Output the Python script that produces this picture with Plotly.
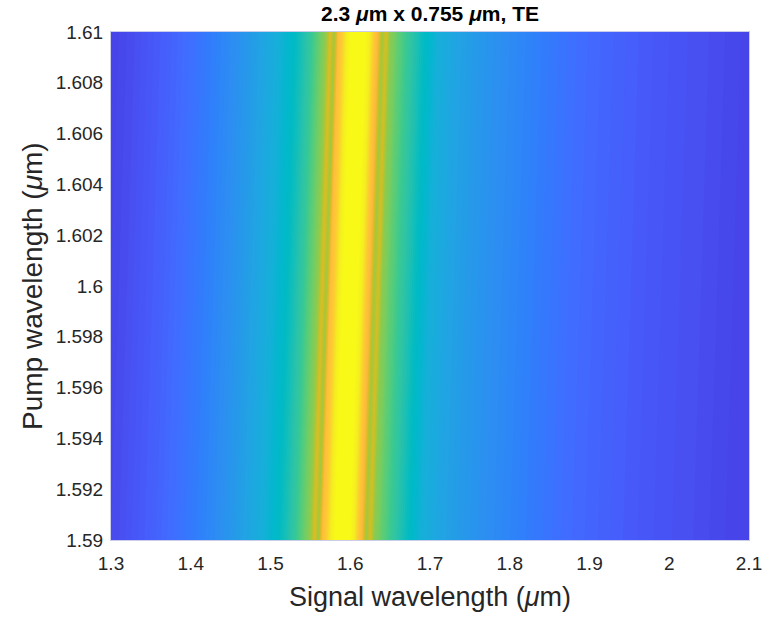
import plotly.graph_objects as go

# Normalised parametric gain versus signal detuning from the pump (um)
detuning_um = [
    -0.32, -0.30, -0.28, -0.26, -0.24, -0.22, -0.20, -0.18, -0.16, -0.14,
    -0.12, -0.10, -0.08, -0.07, -0.06, -0.055, -0.05, -0.045, -0.04, -0.035,
    -0.03, -0.025, -0.02, -0.015, -0.01, -0.005, 0.0, 0.005, 0.01, 0.015,
    0.02, 0.025, 0.03, 0.035, 0.04, 0.045, 0.05, 0.055, 0.06, 0.07,
    0.08, 0.10, 0.12, 0.14, 0.16, 0.18, 0.20, 0.24, 0.28, 0.32,
    0.36, 0.40, 0.44, 0.48, 0.52,
]
gain_norm = [
    0.10, 0.11, 0.13, 0.155, 0.18, 0.21, 0.235, 0.265, 0.30, 0.335,
    0.38, 0.42, 0.475, 0.51, 0.56, 0.60, 0.63, 0.66, 0.69, 0.78,
    0.70, 0.84, 0.88, 0.96, 0.99, 1.00, 1.00, 1.00, 0.99, 0.96,
    0.87, 0.82, 0.70, 0.77, 0.68, 0.66, 0.63, 0.61, 0.58, 0.53,
    0.49, 0.42, 0.385, 0.355, 0.33, 0.31, 0.29, 0.25, 0.215, 0.19,
    0.165, 0.145, 0.13, 0.11, 0.10,
]
pump_um = [1.59, 1.61]

x_tick_vals = [1.3, 1.4, 1.5, 1.6, 1.7, 1.8, 1.9, 2.0, 2.1]
x_tick_text = ["1.3", "1.4", "1.5", "1.6", "1.7", "1.8", "1.9", "2", "2.1"]
y_tick_vals = [1.59, 1.592, 1.594, 1.596, 1.598, 1.6, 1.602, 1.604, 1.606, 1.608, 1.61]
y_tick_text = ["1.59", "1.592", "1.594", "1.596", "1.598", "1.6",
               "1.602", "1.604", "1.606", "1.608", "1.61"]

# MATLAB parula(64)
PARULA = [
    (0.2422, 0.1504, 0.6603), (0.2504, 0.1650, 0.7076), (0.2578, 0.1818, 0.7511),
    (0.2647, 0.1978, 0.7952), (0.2706, 0.2147, 0.8364), (0.2751, 0.2342, 0.8710),
    (0.2783, 0.2559, 0.8991), (0.2803, 0.2782, 0.9221), (0.2813, 0.3006, 0.9414),
    (0.2810, 0.3228, 0.9579), (0.2795, 0.3447, 0.9717), (0.2760, 0.3667, 0.9829),
    (0.2699, 0.3892, 0.9906), (0.2602, 0.4123, 0.9952), (0.2440, 0.4358, 0.9988),
    (0.2206, 0.4603, 0.9973), (0.1963, 0.4847, 0.9892), (0.1834, 0.5074, 0.9798),
    (0.1786, 0.5289, 0.9682), (0.1764, 0.5499, 0.9520), (0.1687, 0.5703, 0.9359),
    (0.1540, 0.5902, 0.9218), (0.1460, 0.6091, 0.9079), (0.1380, 0.6276, 0.8973),
    (0.1248, 0.6459, 0.8883), (0.1113, 0.6635, 0.8763), (0.0952, 0.6798, 0.8598),
    (0.0689, 0.6948, 0.8394), (0.0297, 0.7082, 0.8163), (0.0036, 0.7203, 0.7917),
    (0.0067, 0.7312, 0.7660), (0.0433, 0.7411, 0.7394), (0.0964, 0.7500, 0.7120),
    (0.1408, 0.7584, 0.6842), (0.1717, 0.7670, 0.6554), (0.1938, 0.7758, 0.6251),
    (0.2161, 0.7843, 0.5923), (0.2470, 0.7918, 0.5567), (0.2906, 0.7973, 0.5188),
    (0.3406, 0.8008, 0.4789), (0.3909, 0.8029, 0.4354), (0.4456, 0.8024, 0.3909),
    (0.5044, 0.7993, 0.3480), (0.5616, 0.7942, 0.3045), (0.6174, 0.7876, 0.2612),
    (0.6720, 0.7793, 0.2227), (0.7242, 0.7698, 0.1910), (0.7738, 0.7598, 0.1646),
    (0.8203, 0.7498, 0.1535), (0.8634, 0.7406, 0.1596), (0.9035, 0.7330, 0.1774),
    (0.9393, 0.7288, 0.2100), (0.9728, 0.7298, 0.2394), (0.9956, 0.7434, 0.2371),
    (0.9970, 0.7659, 0.2199), (0.9952, 0.7893, 0.2028), (0.9892, 0.8136, 0.1885),
    (0.9786, 0.8386, 0.1766), (0.9676, 0.8639, 0.1643), (0.9610, 0.8890, 0.1537),
    (0.9597, 0.9135, 0.1423), (0.9628, 0.9373, 0.1265), (0.9691, 0.9606, 0.1064),
    (0.9769, 0.9839, 0.0805),
]
n = len(PARULA)
colorscale = [
    [i / (n - 1), "rgb(%d,%d,%d)" % tuple(round(c * 255) for c in rgb)]
    for i, rgb in enumerate(PARULA)
]

# Carpet mapping (detuning, pump) -> (signal, pump): signal = pump + detuning
signal_grid = [[p + d for d in detuning_um] for p in pump_um]
pump_grid = [[p for _ in detuning_um] for p in pump_um]

hidden_axis = dict(
    showgrid=False, showline=False, showticklabels="none",
    startline=False, endline=False, minorgridcount=0, smoothing=0,
)

fig = go.Figure()
fig.add_trace(go.Carpet(
    carpet="gain_map",
    a=detuning_um, b=pump_um,
    x=signal_grid, y=pump_grid,
    aaxis=hidden_axis, baxis=hidden_axis,
))
fig.add_trace(go.Contourcarpet(
    carpet="gain_map",
    a=detuning_um, b=pump_um,
    z=[gain_norm, gain_norm],
    autocontour=False,
    contours=dict(start=0.0, end=1.0, size=0.01, coloring="fill", showlines=False),
    line=dict(width=0),
    colorscale=colorscale, zmin=0, zmax=1,
    showscale=False,
))

font_family = "Liberation Sans, Arial, Helvetica, sans-serif"
axis_color = "#262626"

fig.update_layout(
    width=774, height=620,
    margin=dict(l=111, r=17, t=32, b=80),
    paper_bgcolor="white", plot_bgcolor="white",
    font=dict(family=font_family, color=axis_color),
    showlegend=False,
    title=dict(
        text="<b>2.3 <i>μ</i>m x 0.755 <i>μ</i>m, TE</b>",
        x=0.5, xref="paper", xanchor="center",
        y=1 - 14 / 620, yref="container", yanchor="middle",
        font=dict(size=21, color="black", family=font_family),
    ),
    xaxis=dict(
        range=[1.3, 2.1], tickvals=x_tick_vals, ticktext=x_tick_text,
        showgrid=False, zeroline=False, ticks="", ticklabelstandoff=6,
        showline=True, linecolor="#c9cde8", linewidth=1, mirror=True,
        tickfont=dict(size=19, color=axis_color),
    ),
    yaxis=dict(
        range=[1.59, 1.61], tickvals=y_tick_vals, ticktext=y_tick_text,
        showgrid=False, zeroline=False, ticks="", ticklabelstandoff=3,
        showline=True, linecolor="#c9cde8", linewidth=1, mirror=True,
        tickfont=dict(size=19, color=axis_color),
    ),
    annotations=[
        dict(text="Signal wavelength (<i>μ</i>m)", xref="paper", yref="paper",
             x=0.5, y=(540 - 597) / 508, xanchor="center", yanchor="middle",
             showarrow=False, font=dict(size=27, color=axis_color)),
        dict(text="Pump wavelength (<i>μ</i>m)", xref="paper", yref="paper",
             x=(31 - 111) / 646, y=0.5, xanchor="center", yanchor="middle",
             textangle=-90, showarrow=False, font=dict(size=28, color=axis_color)),
    ],
)

fig.write_html("out.html")
